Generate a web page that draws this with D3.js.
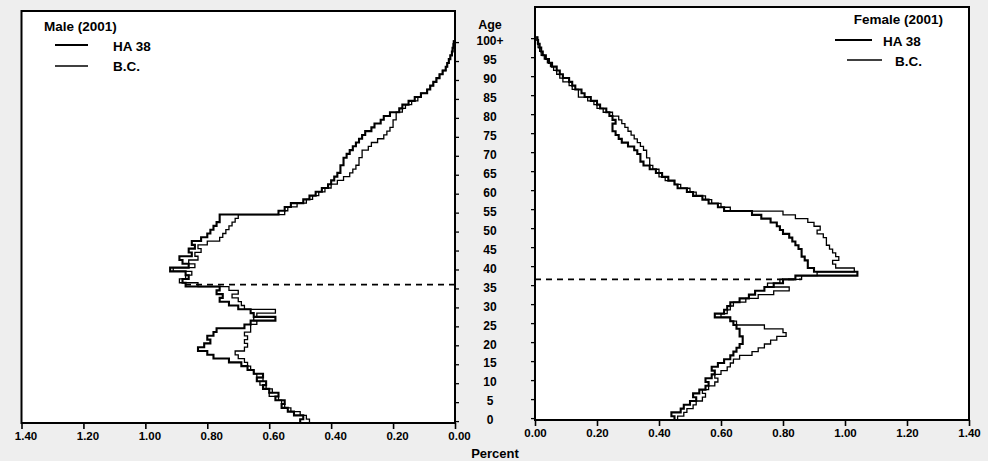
<!DOCTYPE html>
<html><head><meta charset="utf-8">
<script src="https://cdn.jsdelivr.net/npm/d3@7"></script>
<style>
html,body{margin:0;padding:0;background:#eeeeee;}
svg{display:block;font-family:"Liberation Sans",Arial,sans-serif;}
</style></head><body>
<svg id="chart" width="988" height="461"></svg>
<script>
// ---- data ----
const ages = d3.range(0, 101);           // single years, last = 100+
const ageTickValues = d3.range(0, 101, 5);
const ageTickLabels = ["0","5","10","15","20","25","30","35","40","45","50","55","60","65","70","75","80","85","90","95","100+"];
const xTickValues = [0, 0.2, 0.4, 0.6, 0.8, 1.0, 1.2, 1.4];
const seriesNames = ["HA 38", "B.C."];
const panelTitles = ["Male (2001)", "Female (2001)"];
const medianAges = [36.5, 37.0];

const maleHA38 = [
 0.50,0.49,0.52,0.54,0.56,0.55,0.58,0.57,0.60,0.62,0.61,0.64,0.62,0.65,0.67,0.69,
 0.73,0.78,0.80,0.83,0.81,0.79,0.80,0.78,0.77,
 0.68,0.66,0.58,0.65,0.66,
 0.70,0.73,0.76,0.75,0.77,0.76,0.87,
 0.88,0.86,0.87,0.92,0.86,0.88,0.89,0.85,0.86,0.84,0.85,0.82,0.80,0.79,0.78,0.77,0.76,0.76,
 0.57,0.55,0.53,0.49,0.47,0.45,0.43,0.41,0.40,0.39,
 0.38,0.37,0.37,0.36,0.36,0.35,0.34,0.33,0.32,0.31,
 0.30,0.29,0.27,0.26,0.24,0.23,0.21,0.18,0.17,0.15,
 0.13,0.11,0.09,0.08,0.07,0.06,0.05,0.04,0.03,0.025,
 0.02,0.015,0.01,0.008,0.005,0.004
];
const maleBC = [
 0.47,0.48,0.50,0.53,0.55,0.56,0.57,0.60,0.59,0.61,0.63,0.62,0.64,0.65,0.66,0.67,
 0.68,0.70,0.71,0.68,0.67,0.68,0.67,0.68,0.66,
 0.66,0.64,0.65,0.64,0.58,
 0.68,0.69,0.70,0.72,0.70,0.73,0.83,
 0.89,0.87,0.85,0.91,0.84,0.86,0.83,0.84,0.82,0.83,0.80,0.76,0.75,0.74,0.73,0.72,0.71,0.70,
 0.55,0.54,0.51,0.48,0.46,0.44,0.42,0.40,0.38,0.36,
 0.34,0.33,0.32,0.31,0.31,0.30,0.30,0.28,0.27,0.25,
 0.23,0.22,0.21,0.20,0.20,0.19,0.19,0.17,0.16,0.14,
 0.12,0.11,0.09,0.08,0.07,0.06,0.05,0.04,0.03,0.025,
 0.02,0.015,0.01,0.007,0.005,0.004
];
const femaleHA38 = [
 0.45,0.44,0.47,0.48,0.50,0.52,0.51,0.53,0.55,0.56,0.55,0.57,0.58,0.57,0.59,0.61,
 0.63,0.64,0.65,0.66,0.67,0.67,0.66,0.66,0.65,
 0.64,0.63,0.58,0.61,0.62,0.63,
 0.66,0.69,0.71,0.74,0.77,0.80,0.84,1.04,
 0.90,0.88,
 0.88,0.87,0.86,0.86,0.85,0.84,0.83,0.82,0.80,0.79,0.78,0.76,0.73,0.70,
 0.61,0.59,0.56,0.54,0.51,0.49,0.46,0.45,0.43,0.41,
 0.39,0.37,0.35,0.34,0.34,0.33,0.32,0.30,0.28,0.27,
 0.26,0.25,0.25,0.26,0.25,0.24,0.23,0.21,0.20,0.18,
 0.16,0.15,0.13,0.12,0.11,0.09,0.08,0.07,0.055,0.045,
 0.035,0.025,0.02,0.015,0.01,0.008
];
const femaleBC = [
 0.46,0.48,0.49,0.51,0.52,0.54,0.55,0.54,0.56,0.58,0.59,0.58,0.60,0.62,0.63,0.64,
 0.66,0.70,0.72,0.74,0.76,0.78,0.81,0.80,0.74,
 0.65,0.63,0.60,0.62,0.63,0.64,
 0.68,0.72,0.77,0.82,0.75,0.79,0.86,0.91,
 1.03,0.97,
 0.96,0.98,0.97,0.96,0.95,0.94,0.94,0.93,0.91,0.92,0.90,0.88,0.84,0.80,
 0.63,0.60,0.57,0.55,0.52,0.50,0.47,0.45,0.42,0.40,
 0.40,0.38,0.37,0.37,0.36,0.36,0.35,0.34,0.33,0.32,
 0.31,0.30,0.29,0.28,0.27,0.25,0.22,0.20,0.19,0.17,
 0.14,0.14,0.12,0.11,0.09,0.08,0.07,0.06,0.05,0.04,
 0.03,0.02,0.015,0.01,0.008,0.006
];

// ---- drawing ----
const svg = d3.select("#chart");
const ageMax = 108.7;

const panels = [
  {x: d3.scaleLinear().domain([0, 1.4]).range([455, 21.5]),
   y: d3.scaleLinear().domain([0, ageMax]).range([423, 11]),
   series: [maleHA38, maleBC], side: "left", labelDx: 4},
  {x: d3.scaleLinear().domain([0, 1.4]).range([535, 969]),
   y: d3.scaleLinear().domain([0, ageMax]).range([420, 7]),
   series: [femaleHA38, femaleBC], side: "right", labelDx: 0}
];
const widths = [2.1, 1.3];

panels.forEach((p, i) => {
  const g = svg.append("g");
  const [x0, x1] = d3.extent(p.x.range());
  const [y1, y0] = [p.y.range()[0], p.y.range()[1]];
  g.append("rect").attr("x", x0).attr("y", y0)
    .attr("width", x1 - x0).attr("height", y1 - y0)
    .attr("fill", "#fff");

  // series step outlines
  const line = d3.line().x(d => p.x(d[0])).y(d => p.y(d[1]));
  p.series.forEach((vals, k) => {
    const pts = [];
    ages.forEach(a => { pts.push([vals[a], a]); pts.push([vals[a], a + 1]); });
    g.append("path").datum(pts).attr("d", line)
      .attr("fill", "none").attr("stroke", "#000")
      .attr("stroke-width", widths[k]).attr("stroke-linejoin", "miter");
  });

  // median dashed line
  const ma = medianAges[i];
  const reach = d3.max(p.series, s => s[Math.floor(ma)]);
  g.append("line")
    .attr("x1", p.x(0)).attr("x2", p.x(reach))
    .attr("y1", p.y(ma)).attr("y2", p.y(ma))
    .attr("stroke", "#000").attr("stroke-width", 1.6)
    .attr("stroke-dasharray", "6,5");

  // frame
  g.append("rect").attr("x", x0).attr("y", y0)
    .attr("width", x1 - x0).attr("height", y1 - y0)
    .attr("fill", "none").attr("stroke", "#000").attr("stroke-width", 2);

  // x axis
  const ax = g.append("g").attr("transform", `translate(0,${y1})`)
    .call(d3.axisBottom(p.x).tickValues(xTickValues)
      .tickFormat(d3.format(".2f")).tickSize(6).tickPadding(3));
  ax.select(".domain").remove();
  ax.selectAll(".tick line").attr("stroke", "#000").attr("stroke-width", 1.6);
  ax.selectAll(".tick text").attr("fill", "#000")
    .attr("font-family", "'Liberation Sans', Arial, sans-serif")
    .attr("font-size", 11.5).attr("font-weight", "bold")
    .attr("dx", p.labelDx);

  // age ticks on inner axis
  const yAxis = p.side === "left"
    ? d3.axisRight(p.y).tickValues(ageTickValues.map(a => a + 0.5)).tickSize(4).tickFormat("")
    : d3.axisLeft(p.y).tickValues(ageTickValues.map(a => a + 0.5)).tickSize(4).tickFormat("");
  const ay = g.append("g").attr("transform", `translate(${p.x(0)},0)`).call(yAxis);
  ay.select(".domain").remove();
  ay.selectAll(".tick line").attr("stroke", "#000").attr("stroke-width", 1.3);
});

// central age labels
const yC = d3.scaleLinear().domain([0, 100]).range([420, 41]);
svg.append("g").selectAll("text").data(ageTickValues).join("text")
  .attr("x", 490).attr("y", d => yC(d)).attr("dy", "0.36em")
  .attr("text-anchor", "middle").attr("font-size", 12).attr("font-weight", "bold")
  .text((d, i) => ageTickLabels[i]);
svg.append("text").attr("x", 490).attr("y", 24).attr("dy", "0.36em")
  .attr("text-anchor", "middle").attr("font-size", 12.5).attr("font-weight", "bold").text("Age");
svg.append("text").attr("x", 495).attr("y", 453).attr("dy", "0.36em")
  .attr("text-anchor", "middle").attr("font-size", 13).attr("font-weight", "bold").text("Percent");

// legends
const leg = [
  {title: panelTitles[0], tx: 44, ty: 31, anchor: "start",
   rows: [{x1: 55, x2: 88, y: 45, tx: 113, ty: 51}, {x1: 55, x2: 88, y: 66, tx: 113, ty: 71}]},
  {title: panelTitles[1], tx: 943, ty: 24, anchor: "end",
   rows: [{x1: 835, x2: 872, y: 40, tx: 883, ty: 46}, {x1: 847, x2: 882, y: 60, tx: 895, ty: 66}]}
];
leg.forEach(l => {
  svg.append("text").attr("x", l.tx).attr("y", l.ty).attr("text-anchor", l.anchor)
    .attr("font-size", 13.5).attr("font-weight", "bold").text(l.title);
  l.rows.forEach((r, k) => {
    svg.append("line").attr("x1", r.x1).attr("x2", r.x2).attr("y1", r.y).attr("y2", r.y)
      .attr("stroke", "#000").attr("stroke-width", widths[k]);
    svg.append("text").attr("x", r.tx).attr("y", r.ty)
      .attr("font-size", 13.5).attr("font-weight", "bold").text(seriesNames[k]);
  });
});
</script>
</body></html>
